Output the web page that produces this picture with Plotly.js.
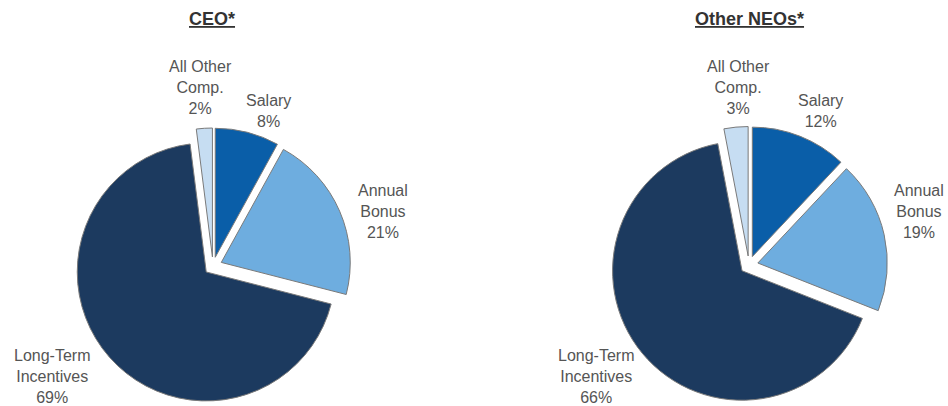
<!DOCTYPE html>
<html>
<head>
<meta charset="utf-8">
<script src="https://cdn.plot.ly/plotly-3.0.1.min.js"></script>
<style>html,body{margin:0;padding:0;background:#fff;}#chart{width:948px;height:406px;}</style>
</head>
<body>
<div id="chart"></div>
<script>
// ---- data ----
const categories = ['Salary', 'Annual Bonus', 'Long-Term Incentives', 'All Other Comp.'];
const categoryLines = ['Salary', 'Annual<br>Bonus', 'Long-Term<br>Incentives', 'All Other<br>Comp.'];
const ceoValues = [8, 21, 69, 2];
const neoValues = [12, 19, 66, 3];
const chartTitles = ['CEO*', 'Other NEOs*'];

// ---- styles ----
const colors = ['#0a5ea8', '#6eaddf', '#1c3a5f', '#c6ddf2'];
const W = 948, H = 406;
const pullAmt = 0.07;

function box(cx, cy, size) {
  return {
    x: [(cx - size / 2) / W, (cx + size / 2) / W],
    y: [(H - cy - size / 2) / H, (H - cy + size / 2) / H]
  };
}

function pieTrace(values, dom) {
  return {
    type: 'pie',
    labels: categories,
    values: values,
    sort: false,
    direction: 'clockwise',
    rotation: 0,
    pull: values.map(() => pullAmt),
    marker: {colors: colors, line: {color: '#7a7a7a', width: 1}},
    textinfo: 'none',
    hoverinfo: 'label+percent',
    showlegend: false,
    domain: dom
  };
}

const data = [
  pieTrace(ceoValues, box(213, 266, 276)),
  pieTrace(neoValues, box(749, 265, 277))
];

// label positions (pixel centres) per pie
const labelPos = [
  [[268, 111], [383, 211], [52, 376], [200, 88]],
  [[820, 111], [919, 211], [596, 376], [738, 88]]
];
const titlePos = [[212, 19], [749, 19]];
const seriesVals = [ceoValues, neoValues];

const annotations = [];
for (let p = 0; p < 2; p++) {
  annotations.push({
    xref: 'paper', yref: 'paper',
    x: titlePos[p][0] / W, y: (H - titlePos[p][1]) / H,
    xanchor: 'center', yanchor: 'middle',
    text: '<b><u>' + chartTitles[p] + '</u></b>',
    showarrow: false,
    font: {family: 'Liberation Sans, Arial, sans-serif', size: 18, color: '#333333'}
  });
  for (let i = 0; i < categories.length; i++) {
    annotations.push({
      xref: 'paper', yref: 'paper',
      x: labelPos[p][i][0] / W, y: (H - labelPos[p][i][1]) / H,
      xanchor: 'center', yanchor: 'middle', align: 'center',
      borderpad: 0,
      text: categoryLines[i] + '<br>' + seriesVals[p][i] + '%',
      showarrow: false,
      font: {family: 'Liberation Sans, Arial, sans-serif', size: 16, color: '#555555'}
    });
  }
}

const layout = {
  width: W, height: H,
  margin: {l: 0, r: 0, t: 0, b: 0},
  paper_bgcolor: '#ffffff',
  plot_bgcolor: '#ffffff',
  annotations: annotations,
  showlegend: false
};

Plotly.newPlot('chart', data, layout, {displayModeBar: false, staticPlot: true});
</script>
</body>
</html>
